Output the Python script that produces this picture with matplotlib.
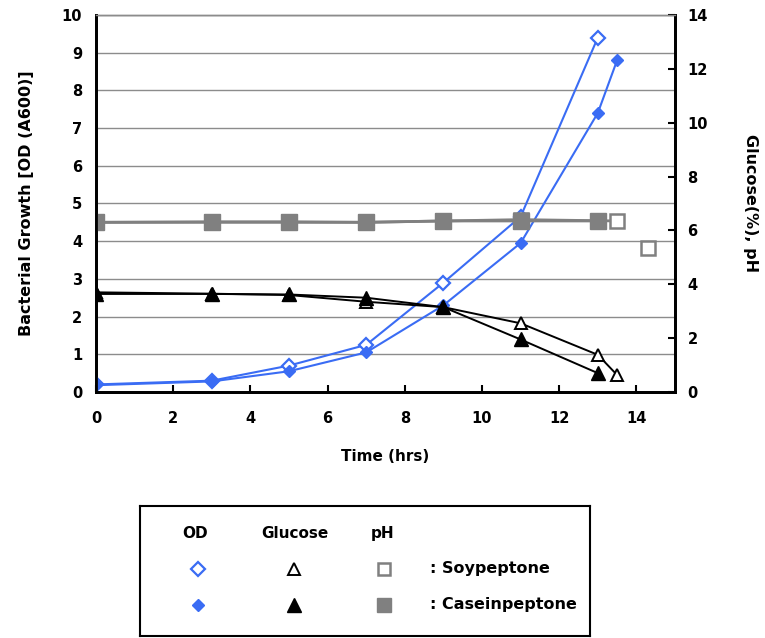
import matplotlib
matplotlib.use('Agg')
import matplotlib.pyplot as plt

# OD (left axis)
soy_od_t = [0, 3, 5, 7, 9, 11, 13]
soy_od = [0.2, 0.3, 0.7, 1.25, 2.9, 4.65, 9.4]
cas_od_t = [0, 3, 5, 7, 9, 11, 13, 13.5]
cas_od = [0.18, 0.28, 0.55, 1.05, 2.3, 3.95, 7.4, 8.8]

# glucose (right axis, %)
soy_glu_t = [0, 3, 5, 7, 9, 11, 13, 13.5]
soy_glu = [3.7, 3.65, 3.6, 3.35, 3.15, 2.55, 1.38, 0.63]
cas_glu_t = [0, 3, 5, 7, 9, 11, 13]
cas_glu = [3.64, 3.64, 3.62, 3.5, 3.15, 1.95, 0.7]

# pH (right axis)
soy_ph_t = [0, 3, 5, 7, 9, 11, 13.5]
soy_ph = [6.3, 6.3, 6.3, 6.3, 6.35, 6.4, 6.35]
soy_ph_last_t = [14.3]
soy_ph_last = [5.35]
cas_ph_t = [0, 3, 5, 7, 9, 11, 13]
cas_ph = [6.3, 6.32, 6.32, 6.3, 6.35, 6.35, 6.35]

blue = '#3a6cf4'
gray = '#808080'

plt.rcParams['font.family'] = ['DejaVu Sans']
plt.rcParams['font.weight'] = 'bold'

fig = plt.figure(figsize=(7.65, 6.38), dpi=100)
ax = fig.add_axes([0.1255, 0.3856, 0.7569, 0.591])
ax2 = ax.twinx()

ax.set_xlim(0, 15)
ax.set_ylim(0, 10)
ax2.set_ylim(0, 14)
ax.set_yticks(range(0, 11))
ax.set_xticks(range(0, 15, 2))
ax2.set_yticks(range(0, 15, 2))
ax.grid(axis='y', color='#8c8c8c', lw=1)
ax.set_axisbelow(True)

for a in (ax, ax2):
    a.tick_params(labelsize=10.5, direction='in', length=5, width=1.5)
    for s in ('left', 'bottom', 'right'):
        a.spines[s].set_linewidth(2)
    a.spines['top'].set_color('#8c8c8c')
    a.spines['top'].set_linewidth(1)
ax.tick_params(axis='y', length=0, pad=10)
ax2.tick_params(axis='y', pad=9)
ax.tick_params(axis='x', pad=14)

# OD
ax.plot(soy_od_t, soy_od, color=blue, lw=1.5, marker='D', ms=7.5,
        mfc='white', mec=blue, mew=1.6, zorder=3)
ax.plot(cas_od_t, cas_od, color=blue, lw=1.5, marker='D', ms=6,
        mfc=blue, mec=blue, zorder=3)

# pH
ax2.plot(soy_ph_t, soy_ph, color=gray, lw=2, marker='s', ms=10,
         mfc='white', mec=gray, mew=1.8, zorder=2)
ax2.plot(soy_ph_last_t, soy_ph_last, ls='none', marker='s', ms=10,
         mfc='white', mec=gray, mew=1.8, zorder=2)
ax2.plot(cas_ph_t, cas_ph, color=gray, lw=2, marker='s', ms=11,
         mfc=gray, mec=gray, zorder=2)

# glucose
ax2.plot(soy_glu_t, soy_glu, color='black', lw=1.4, marker='^', ms=9,
         mfc='white', mec='black', mew=1.4, zorder=3)
ax2.plot(cas_glu_t, cas_glu, color='black', lw=1.4, marker='^', ms=10,
         mfc='black', mec='black', zorder=3)

ax.set_xlabel('Time (hrs)', fontsize=11, fontweight='bold', labelpad=16)
ax.set_ylabel('Bacterial Growth [OD (A600)]', fontsize=11.5, fontweight='bold', labelpad=20)
ax2.set_ylabel('Glucose(%), pH', fontsize=11.5, fontweight='bold',
               rotation=270, labelpad=36)

# legend box
lax = fig.add_axes([140 / 765, 1 - 636 / 638, 450 / 765, 130 / 638])
lax.set_xlim(140, 590)
lax.set_ylim(636, 506)
lax.set_xticks([])
lax.set_yticks([])
for s in lax.spines.values():
    s.set_linewidth(1.5)

headers = ['OD', 'Glucose', 'pH']
header_x = [195, 295, 383]
for h, x in zip(headers, header_x):
    lax.text(x, 534, h, ha='center', va='center', fontsize=11, fontweight='bold')

rows = [': Soypeptone', ': Caseinpeptone']
row_y = [569, 605]
lax.plot(198, row_y[0], marker='D', ms=7, mfc='white', mec=blue, mew=1.6)
lax.plot(198, row_y[1], marker='D', ms=6, mfc=blue, mec=blue)
lax.plot(294, row_y[0], marker='^', ms=9, mfc='white', mec='black', mew=1.4)
lax.plot(294, row_y[1], marker='^', ms=10, mfc='black', mec='black')
lax.plot(384, row_y[0], marker='s', ms=9, mfc='white', mec=gray, mew=1.8)
lax.plot(384, row_y[1], marker='s', ms=10, mfc=gray, mec=gray)
for r, y in zip(rows, row_y):
    lax.text(430, y, r, ha='left', va='center', fontsize=11.5, fontweight='bold')

fig.savefig('out.png', dpi=100)
